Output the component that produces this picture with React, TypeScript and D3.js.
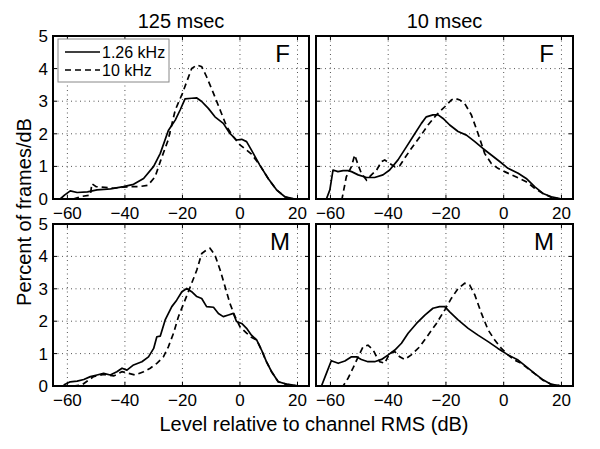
import React from "react";
import * as d3 from "d3";

type Pt = [number, number];

const titles = ["125 msec", "10 msec"];
const rowLabels = ["F", "M"];
const legendLabels = ["1.26 kHz", "10 kHz"];
const xTicks = [-60, -40, -20, 0, 20];
const yTicks = [0, 1, 2, 3, 4, 5];

const fLongSolid: Pt[] = [
  [-62.5, 0], [-61, 0.12], [-59, 0.25], [-56.6, 0.2], [-53, 0.22], [-49.7, 0.28], [-45, 0.31],
  [-40.5, 0.38], [-37, 0.45], [-33.5, 0.63], [-30, 1.0], [-27.7, 1.4], [-24.9, 2.1],
  [-22.5, 2.42], [-20.8, 2.73], [-19.1, 3.07], [-16.8, 3.09], [-15, 3.1], [-13.3, 2.99],
  [-11, 2.78], [-8.7, 2.52], [-5.8, 2.32], [-3.5, 2.01], [-1.2, 1.81], [0.6, 1.83],
  [2.3, 1.76], [4, 1.5], [6.9, 1.04], [9.8, 0.63], [12.7, 0.28], [15.6, 0.07], [18.5, 0.01], [20, 0],
];
const fLongDashed: Pt[] = [
  [-58, 0], [-55, 0.08], [-52, 0.12], [-51.5, 0.47], [-50, 0.38], [-47, 0.36], [-44, 0.33],
  [-41, 0.36], [-38, 0.38], [-35, 0.38], [-32, 0.42], [-29.5, 0.68], [-27.5, 1.2], [-25, 1.8],
  [-22.5, 2.73], [-20, 3.24], [-18.5, 3.6], [-16.8, 4.0], [-15, 4.11], [-13.3, 4.06],
  [-11.6, 3.75], [-9.2, 3.24], [-6.9, 2.73], [-4.6, 2.22], [-2.3, 1.91], [0, 1.66], [2.3, 1.5],
  [4, 1.38], [6.9, 1.04], [9.8, 0.63], [12.7, 0.28], [15.6, 0.07], [18, 0],
];
const fShortSolid: Pt[] = [
  [-61.4, 0], [-60.2, 0.28], [-59.1, 0.89], [-57.4, 0.84], [-55.6, 0.87], [-53.9, 0.87],
  [-52.7, 0.84], [-50.4, 0.74], [-47.5, 0.66], [-44.7, 0.66], [-41.8, 0.74], [-39.5, 0.89],
  [-36.6, 1.2], [-33.7, 1.6], [-30.8, 2.0], [-28.5, 2.32], [-26.8, 2.52], [-24.5, 2.58],
  [-22.7, 2.58], [-21, 2.47], [-18.7, 2.27], [-15.8, 2.07], [-12.9, 1.96], [-10, 1.76],
  [-7.2, 1.55], [-4.3, 1.35], [-1.4, 1.15], [1.5, 0.94], [5, 0.79], [7.8, 0.63], [10.7, 0.38],
  [13.6, 0.17], [16.5, 0.07], [19.4, 0.01],
];
const fShortDashed: Pt[] = [
  [-60, 0], [-56, 0], [-54.5, 0.68], [-52.7, 1.0], [-51.6, 1.35], [-50.4, 1.04], [-49.3, 0.79],
  [-47.5, 0.58], [-45.8, 0.74], [-44, 0.89], [-42.3, 1.15], [-41.2, 1.2], [-39.5, 1.09],
  [-37.7, 0.99], [-36, 1.02], [-34.3, 1.25], [-32, 1.55], [-29, 1.91], [-26.2, 2.27],
  [-23.3, 2.58], [-20.4, 2.83], [-18.1, 3.04], [-17, 3.09], [-15.2, 3.04], [-13.5, 2.93],
  [-11.2, 2.58], [-8.9, 2.01], [-6.6, 1.4], [-4.3, 1.09], [-2, 0.94], [0.3, 0.84], [2.7, 0.74],
  [5.5, 0.63], [7.8, 0.53], [10.7, 0.33], [13.6, 0.17], [16.5, 0.05], [18.8, 0.01],
];
const mLongSolid: Pt[] = [
  [-61.3, 0.03], [-59, 0.13], [-56.6, 0.15], [-54.3, 0.2], [-52, 0.29], [-49.7, 0.34],
  [-47.4, 0.39], [-45.1, 0.34], [-42.8, 0.44], [-41, 0.55], [-39.3, 0.49], [-37, 0.65],
  [-34.1, 0.75], [-31.8, 0.9], [-30, 1.16], [-28.9, 1.52], [-27.7, 1.54], [-26, 2.04],
  [-23.7, 2.45], [-22, 2.65], [-20.2, 2.91], [-18.5, 3.01], [-16.8, 2.91], [-15, 2.76],
  [-13.3, 2.7], [-11.6, 2.45], [-9.2, 2.43], [-7.5, 2.24], [-5.8, 2.14], [-4, 2.19],
  [-2.3, 2.24], [-1.2, 1.99], [0.6, 1.93], [2.3, 1.78], [4, 1.57], [5.8, 1.42], [7.5, 1.11],
  [9.2, 0.75], [11, 0.44], [13.3, 0.13], [16.2, 0.06], [19.7, 0.01],
];
const mLongDashed: Pt[] = [
  [-58, 0], [-55, 0.03], [-50.9, 0.29], [-47.4, 0.36], [-43.9, 0.31], [-41, 0.44], [-38.7, 0.39],
  [-36.4, 0.34], [-33.5, 0.44], [-31.2, 0.55], [-28.9, 0.7], [-26.6, 0.9], [-24.9, 1.21],
  [-23.1, 1.63], [-21.4, 2.14], [-19.1, 2.65], [-16.8, 3.17], [-15, 3.58], [-13.3, 4.09],
  [-11.6, 4.2], [-10.4, 4.25], [-8.7, 4.04], [-6.9, 3.58], [-5.2, 3.07], [-3.5, 2.55],
  [-1.7, 2.14], [0, 1.83], [2.3, 1.63], [4, 1.5], [5.8, 1.42], [7.5, 1.11], [9.2, 0.75],
  [11, 0.44], [13.3, 0.13], [16.2, 0.05], [19, 0.01],
];
const mShortSolid: Pt[] = [
  [-63.1, 0], [-61.4, 0.39], [-59.7, 0.78], [-57.3, 0.7], [-55, 0.77], [-52.7, 0.9], [-51, 0.9],
  [-49.3, 0.82], [-47, 0.75], [-44.7, 0.75], [-42.3, 0.82], [-40, 0.96], [-37.7, 1.11],
  [-35.4, 1.32], [-33.1, 1.63], [-30.2, 1.93], [-27.3, 2.19], [-24.5, 2.4], [-22.2, 2.45],
  [-20.4, 2.45], [-18.7, 2.29], [-15.8, 2.04], [-12.3, 1.78], [-8.9, 1.57], [-5.4, 1.37],
  [-2, 1.16], [1.5, 0.96], [5, 0.8], [7.8, 0.6], [10.7, 0.39], [13.6, 0.19], [16.5, 0.05],
  [19.4, 0.01],
];
const mShortDashed: Pt[] = [
  [-60, 0], [-55.6, 0], [-53.9, 0.24], [-52.2, 0.55], [-50.4, 0.9], [-48.7, 1.21], [-47, 1.26],
  [-45.2, 1.11], [-44, 0.9], [-42.9, 0.75], [-41.2, 0.7], [-39.5, 1.01], [-37.7, 1.06],
  [-36, 0.9], [-34.3, 0.82], [-32, 0.96], [-29.1, 1.21], [-26.2, 1.57], [-23.3, 1.93],
  [-20.4, 2.35], [-18.1, 2.71], [-15.8, 3.01], [-13.5, 3.17], [-11.8, 3.12], [-10, 2.81],
  [-7.7, 2.24], [-5.4, 1.73], [-3.1, 1.42], [-0.8, 1.16], [1.5, 0.96], [3.8, 0.8], [6.1, 0.7],
  [7.8, 0.58], [10.7, 0.38], [13.6, 0.18], [16.5, 0.05], [19.2, 0.01],
];

const panels = [
  { row: 0, col: 0, solid: fLongSolid, dashed: fLongDashed },
  { row: 0, col: 1, solid: fShortSolid, dashed: fShortDashed },
  { row: 1, col: 0, solid: mLongSolid, dashed: mLongDashed },
  { row: 1, col: 1, solid: mShortSolid, dashed: mShortDashed },
];

const FONT = "Liberation Sans, Arial, Helvetica, sans-serif";
const colX = [[53, 309], [316, 573]];
const rowY = [[36, 199], [224, 386]];

export default function App() {
  return (
    <svg width={600} height={449} style={{ position: "absolute", left: 0, top: 0, background: "#fff" }} fontFamily={FONT}>
      <rect x={0} y={0} width={600} height={449} fill="#fff" />
      {panels.map((p, i) => {
        const [x0, x1] = colX[p.col];
        const [y0, y1] = rowY[p.row];
        const x = d3.scaleLinear().domain([-65, 24]).range([x0, x1]);
        const y = d3.scaleLinear().domain([0, 5]).range([y1, y0]);
        const line = d3.line<Pt>().x((d) => x(d[0])).y((d) => y(d[1]));
        return (
          <g key={i}>
            {xTicks.map((t) => (
              <line key={"gx" + t} x1={x(t)} x2={x(t)} y1={y0} y2={y1} stroke="#555" strokeWidth={1} strokeDasharray="1,3.5" />
            ))}
            {yTicks.filter((t) => t > 0 && t < 5).map((t) => (
              <line key={"gy" + t} x1={x0} x2={x1} y1={y(t)} y2={y(t)} stroke="#555" strokeWidth={1} strokeDasharray="1,3.5" />
            ))}
            {xTicks.map((t) => (
              <g key={"tx" + t}>
                <line x1={x(t)} x2={x(t)} y1={y1} y2={y1 - 4} stroke="#000" strokeWidth={1} />
                <line x1={x(t)} x2={x(t)} y1={y0} y2={y0 + 4} stroke="#000" strokeWidth={1} />
                <text x={x(t)} y={y1 + 20} fontSize={17} textAnchor="middle">
                  {t < 0 ? "\u2212" + Math.abs(t) : String(t)}
                </text>
              </g>
            ))}
            {yTicks.map((t) => (
              <g key={"ty" + t}>
                <line x1={x0} x2={x0 + 4} y1={y(t)} y2={y(t)} stroke="#000" strokeWidth={1} />
                <line x1={x1} x2={x1 - 4} y1={y(t)} y2={y(t)} stroke="#000" strokeWidth={1} />
                {p.col === 0 && (
                  <text x={x0 - 5} y={y(t) + 6} fontSize={17} textAnchor="end">{t}</text>
                )}
              </g>
            ))}
            <path d={line(p.solid) || ""} fill="none" stroke="#000" strokeWidth={1.7} strokeLinejoin="round" />
            <path d={line(p.dashed) || ""} fill="none" stroke="#000" strokeWidth={1.7} strokeDasharray="6,4" />
            <rect x={x0} y={y0} width={x1 - x0} height={y1 - y0} fill="none" stroke="#000" strokeWidth={2} />
            <text x={x1 - 19} y={y0 + 26} fontSize={24} textAnchor="end">{rowLabels[p.row]}</text>
            {p.row === 0 && (
              <text x={(x0 + x1) / 2} y={y0 - 8} fontSize={20} textAnchor="middle">{titles[p.col]}</text>
            )}
            {p.row === 0 && p.col === 0 && (
              <g>
                <rect x={58} y={39} width={111} height={43} fill="#fff" stroke="#888" strokeWidth={1} />
                <line x1={65} x2={100} y1={52} y2={52} stroke="#000" strokeWidth={1.5} />
                <line x1={65} x2={100} y1={70} y2={70} stroke="#000" strokeWidth={1.5} strokeDasharray="6,4" />
                <text x={102} y={58} fontSize={16}>{legendLabels[0]}</text>
                <text x={102} y={76} fontSize={16}>{legendLabels[1]}</text>
              </g>
            )}
          </g>
        );
      })}
      <text x={314} y={431} fontSize={20} textAnchor="middle">Level relative to channel RMS (dB)</text>
      <text transform="translate(31,212) rotate(-90)" fontSize={20} textAnchor="middle">Percent of frames/dB</text>
    </svg>
  );
}
